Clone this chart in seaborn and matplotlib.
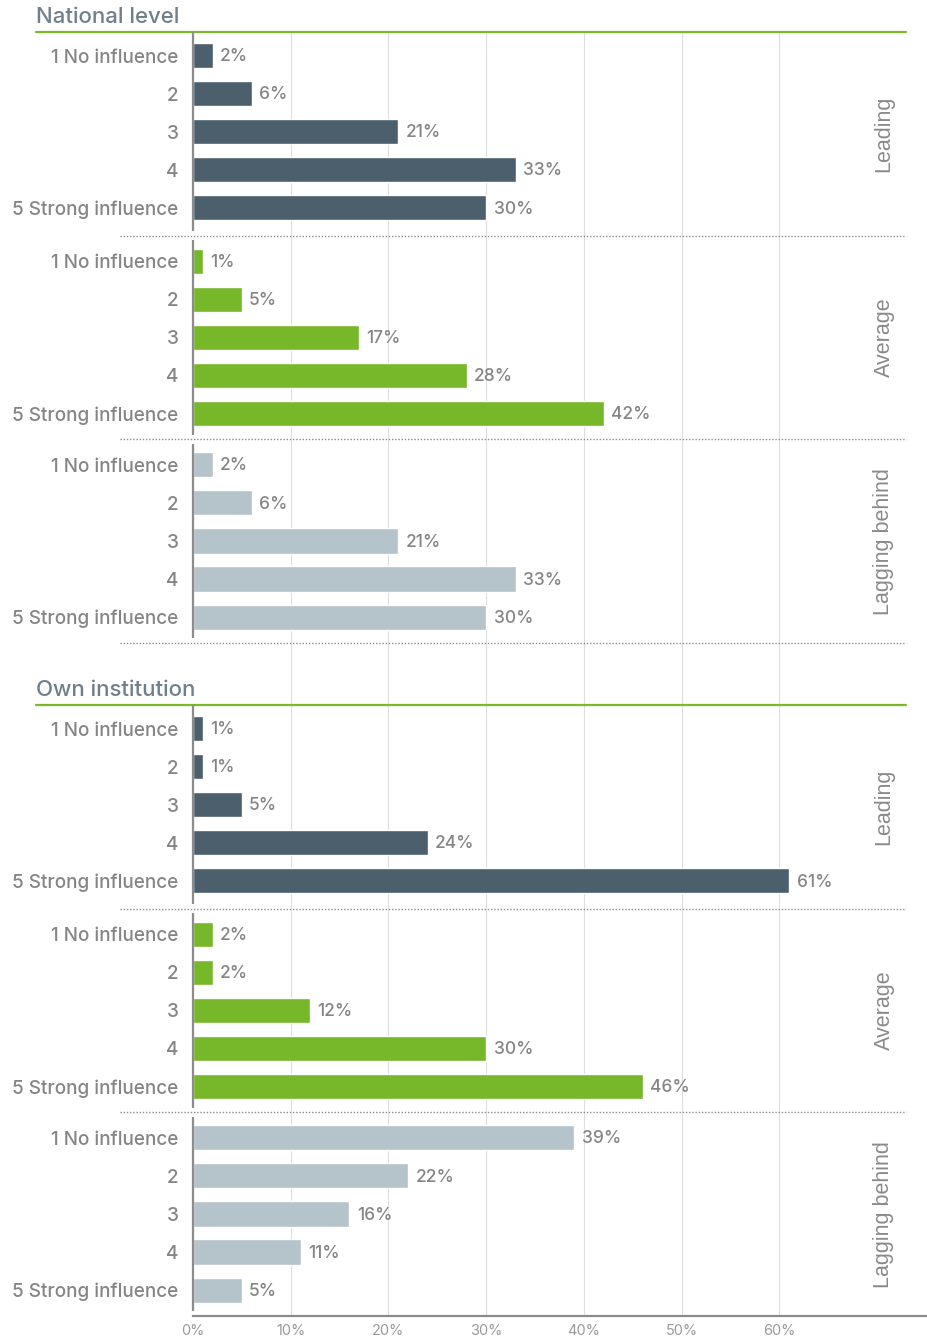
import matplotlib
matplotlib.use("Agg")
import matplotlib.pyplot as plt
import matplotlib.transforms as mtransforms
import numpy as np
import pandas as pd
import seaborn as sns

# ---- data -------------------------------------------------------------
levels = ["1 No influence", "2", "3", "4", "5 Strong influence"]
groups = ["Leading", "Average", "Lagging behind"]
sections = ["National level", "Own institution"]

national_leading = [2, 6, 21, 33, 30]
national_average = [1, 5, 17, 28, 42]
national_lagging = [2, 6, 21, 33, 30]

own_leading = [1, 1, 5, 24, 61]
own_average = [2, 2, 12, 30, 46]
own_lagging = [39, 22, 16, 11, 5]

x_ticks = [0, 10, 20, 30, 40, 50, 60]
x_tick_labels = ["0%", "10%", "20%", "30%", "40%", "50%", "60%"]

values = {
    ("National level", "Leading"): national_leading,
    ("National level", "Average"): national_average,
    ("National level", "Lagging behind"): national_lagging,
    ("Own institution", "Leading"): own_leading,
    ("Own institution", "Average"): own_average,
    ("Own institution", "Lagging behind"): own_lagging,
}

palette = {"Leading": "#4b5f6d", "Average": "#76b82a", "Lagging behind": "#b5c3ca"}

# ---- layout (in row units) -------------------------------------------
GROUP_H = 5.35
SECTION_GAP = 1.63
SECTION_H = 3 * GROUP_H
TOP_PAD = 0.62
TOTAL = 2 * SECTION_H + SECTION_GAP


def group_top(s, g):
    return s * (SECTION_H + SECTION_GAP) + g * GROUP_H


rows = []
for s, sec in enumerate(sections):
    for g, grp in enumerate(groups):
        for i, lev in enumerate(levels):
            rows.append({
                "section": sec, "group": grp, "level": lev,
                "value": values[(sec, grp)][i],
                "pos": group_top(s, g) + TOP_PAD + (0.05 if g else 0) + i,
            })
df = pd.DataFrame(rows)

# ---- figure -----------------------------------------------------------
sns.set_theme(style="white")
plt.rcParams["font.family"] = ["Inter", "DejaVu Sans"]

W, H = 928, 1339
fig = plt.figure(figsize=(W / 100, H / 100), dpi=100)
ax_left, ax_right = 193 / W, 1.0
ax_top, ax_bottom = 1 - 32 / H, 1 - 1316 / H
ax = fig.add_axes([ax_left, ax_bottom, ax_right - ax_left, ax_top - ax_bottom])

XMAX = 75.2
for xv in x_ticks[1:]:
    ax.axvline(xv, color="#dedede", lw=0.8, zorder=0)

sns.barplot(data=df, x="value", y="pos", hue="group", palette=palette,
            orient="h", native_scale=True, dodge=False, width=0.66,
            saturation=1, legend=False, ax=ax, zorder=2)

ax.set_xlim(0, XMAX)
ax.set_ylim(TOTAL, 0)

# value labels
text_grey = "#858585"
for _, r in df.iterrows():
    ax.text(r["value"] + 0.75, r["pos"] + 0.03, f"{r['value']}%", va="center",
            ha="left", fontsize=12.5, color=text_grey, fontweight="medium")

# category labels
ax.set_yticks(df["pos"])
ax.set_yticklabels(df["level"], fontsize=13.6, color=text_grey,
                   fontweight="medium")
ax.tick_params(axis="y", length=0, pad=10.5)

ax.set_xticks(x_ticks)
ax.set_xticklabels(x_tick_labels, fontsize=10.5, color="#9a9a9a",
                   fontweight="normal")
ax.tick_params(axis="x", length=0, pad=6)
ax.set_xlabel("")
ax.set_ylabel("")

for side in ["top", "right", "left"]:
    ax.spines[side].set_visible(False)
ax.spines["bottom"].set_color("#8c8c8c")
ax.spines["bottom"].set_linewidth(1.6)

fig_x = mtransforms.blended_transform_factory(fig.transFigure, ax.transData)
axes_x = mtransforms.blended_transform_factory(ax.transAxes, ax.transData)

for s, sec in enumerate(sections):
    top = group_top(s, 0)
    # section title and green rule
    ax.plot([36 / W, 906 / W], [top, top], transform=fig_x, color="#7ab929",
            lw=1.6, clip_on=False, zorder=3)
    ax.text(36 / W, top - 0.4, sec, transform=fig_x, ha="left", va="center",
            fontsize=16, color="#6f808c", fontweight="medium")
    for g, grp in enumerate(groups):
        gt = group_top(s, g)
        gb = gt + GROUP_H
        # left axis segment for the group
        ax.plot([0, 0], [gt + (0 if g == 0 else 0.12), gb - 0.12],
                color="#8c8c8c", lw=1.6, clip_on=False, zorder=3,
                solid_capstyle="butt")
        # group label on the right
        ax.text((884 - 193) / (W - 193), gt + GROUP_H / 2, grp,
                transform=axes_x, rotation=90, ha="center", va="center",
                fontsize=15.5, color="#8a8a8a", family="Liberation Sans")
        # dotted separator below the group
        if not (s == 1 and g == 2):
            ax.plot([120 / W, 906 / W], [gb, gb], transform=fig_x,
                    color="#8c8c8c", lw=1.0, ls=(0, (1, 1.3)),
                    clip_on=False, zorder=3)

fig.savefig("out.png", dpi=100)
